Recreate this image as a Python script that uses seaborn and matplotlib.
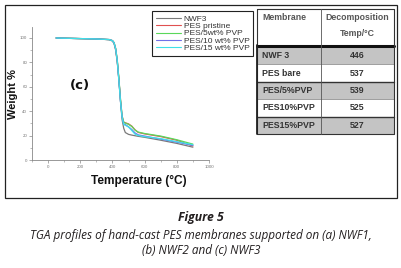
import numpy as np
import pandas as pd
import matplotlib
matplotlib.use("Agg")
import matplotlib.pyplot as plt
import seaborn as sns
from matplotlib.patches import Rectangle

# ---------------- data ----------------
temperature = [50, 100, 200, 300, 380, 400, 410, 420, 430, 440, 450, 460, 470, 480,
               500, 520, 540, 560, 600, 700, 800, 900]
nwf3 = [100, 99.8, 99.5, 99.2, 98.6, 97.5, 95.5, 90, 80, 66, 48, 33, 26, 22.5,
        21, 20.4, 19.9, 19.4, 18.6, 16.2, 13.6, 10.5]
pes_pristine = [100, 99.8, 99.5, 99.2, 98.7, 97.8, 96, 91, 81, 66, 49, 36, 31, 30.5,
                29.6, 27.8, 24.8, 22.6, 21.4, 19.2, 16.2, 11.5]
pes_5 = [100, 99.8, 99.5, 99.2, 98.7, 97.8, 96.2, 91.5, 82, 67, 50, 36, 31, 30.3,
         29.2, 27.5, 24.5, 22.9, 21.7, 19.6, 16.6, 13.0]
pes_10 = [100, 99.8, 99.5, 99.2, 98.7, 97.8, 96, 91, 81, 65, 48, 35, 29.5, 29,
          27.2, 25, 22.2, 20.6, 19.6, 17.1, 14.6, 12.0]
pes_15 = [100, 99.8, 99.5, 99.2, 98.7, 97.8, 96, 91, 81, 65, 48, 35, 29, 28.5,
          27, 24.2, 21.2, 20.1, 19.1, 17.5, 15.0, 12.5]
series_names = ["NWF3", "PES pristine", "PES/5wt% PVP", "PES/10 wt% PVP", "PES/15 wt% PVP"]
series_colors = ["#7a7a7a", "#e05050", "#5ad85a", "#7070e8", "#40e0e8"]

table_membranes = ["NWF 3", "PES bare", "PES/5%PVP", "PES10%PVP", "PES15%PVP"]
table_temps = ["446", "537", "539", "525", "527"]
table_header = ["Membrane", "Decomposition\nTemp/°C"]

x_ticks = [0, 200, 400, 600, 800, 1000]
y_ticks = [0, 20, 40, 60, 80, 100]

caption_title = "Figure 5"
caption_text = "TGA profiles of hand-cast PES membranes supported on (a) NWF1,\n(b) NWF2 and (c) NWF3"

# ---------------- figure ----------------
sns.set_theme(style="ticks")
plt.rcParams["font.family"] = ["Liberation Sans", "DejaVu Sans"]

W, H = 402, 268
fig = plt.figure(figsize=(W / 100, H / 100), dpi=100)

def fx(px):
    return px / W

def fy(py):
    return 1 - py / H

# outer frame
fig.add_artist(Rectangle((fx(5), fy(198)), fx(397) - fx(5), fy(5) - fy(198),
                         transform=fig.transFigure, fill=False, edgecolor="#222222",
                         linewidth=0.9))

ax = fig.add_axes([fx(32), fy(160), fx(209) - fx(32), fy(27) - fy(160)])
ax.set_facecolor("white")

df = pd.DataFrame({
    "Temperature": temperature * 5,
    "Weight": nwf3 + pes_pristine + pes_5 + pes_10 + pes_15,
    "Sample": sum([[n] * len(temperature) for n in series_names], []),
})
sns.lineplot(data=df, x="Temperature", y="Weight", hue="Sample",
             hue_order=series_names, palette=series_colors, linewidth=0.9,
             ax=ax, legend=True)

ax.set_xlim(-100, 1000)
ax.set_ylim(0, 109)
ax.set_xticks(x_ticks)
ax.set_yticks(y_ticks)
ax.set_xticks(np.arange(-100, 1001, 100), minor=True)
ax.set_yticks(np.arange(0, 109, 10), minor=True)
ax.tick_params(axis="both", which="major", labelsize=3.2, length=2, width=0.5,
               colors="#888888", labelcolor="#777777", pad=1.5)
ax.tick_params(axis="both", which="minor", length=1.2, width=0.4, colors="#888888")
for s in ["top", "right"]:
    ax.spines[s].set_visible(False)
for s in ["left", "bottom"]:
    ax.spines[s].set_color("#888888")
    ax.spines[s].set_linewidth(0.6)
ax.set_xlabel("")
ax.set_ylabel("")

fig.text(fx(139), fy(181), "Temperature (°C)", ha="center", va="center",
         fontsize=8.6, fontweight="bold", color="#111111")
fig.text(fx(13), fy(94), "Weight %", ha="center", va="center", rotation=90,
         fontsize=8.0, fontweight="bold", color="#111111")
fig.text(fx(80), fy(86), "(c)", ha="center", va="center", fontsize=9.5,
         fontweight="bold", color="#111111", family=["DejaVu Sans"])

handles, labels = ax.get_legend_handles_labels()
leg = ax.legend(handles, labels, loc="upper left",
                bbox_to_anchor=(fx(152), fy(11)), bbox_transform=fig.transFigure,
                fontsize=6.0, labelspacing=-0.05, handlelength=3.0,
                handletextpad=0.35, borderpad=0.45, borderaxespad=0,
                frameon=True, fancybox=False, framealpha=1)
leg.get_frame().set_edgecolor("#222222")
leg.get_frame().set_linewidth(0.8)
for t in leg.get_texts():
    t.set_color("#333333")
for ln in leg.get_lines():
    ln.set_linewidth(0.8)

# ---------------- table ----------------
tab = fig.add_axes([0, 0, 1, 1], zorder=5)
tab.set_xlim(0, W)
tab.set_ylim(H, 0)
tab.axis("off")
tab.patch.set_alpha(0)

tl, tr, tt, tb = 257, 394, 9, 134
col_div = 321
header_bottom = 45
row_h = (tb - 47) / len(table_membranes)
tab.add_patch(Rectangle((tl, tt), tr - tl, tb - tt, facecolor="white",
                        edgecolor="none", zorder=1))
for i, (m, t) in enumerate(zip(table_membranes, table_temps)):
    y0 = 47 + i * row_h
    if i % 2 == 0:
        tab.add_patch(Rectangle((tl, y0), tr - tl, row_h, facecolor="#c4c4c4",
                                edgecolor="none", zorder=1))
        if i > 0:
            tab.plot([tl, tr], [y0, y0], color="#333333", linewidth=1.0, zorder=3)
    else:
        tab.plot([tl, tr], [y0, y0], color="#777777", linewidth=0.5, zorder=3)
    tab.text(tl + 5, y0 + row_h / 2, m, ha="left", va="center", fontsize=6.3,
             fontweight="bold", color="#333333", zorder=4)
    tab.text((col_div + tr) / 2, y0 + row_h / 2, t, ha="center", va="center",
             fontsize=6.3, fontweight="bold", color="#333333", zorder=4)
# header
tab.text(tl + 5, 17, table_header[0], ha="left", va="center", fontsize=6.3,
         fontweight="bold", color="#555555", zorder=4)
h1, h2 = table_header[1].split("\n")
tab.text((col_div + tr) / 2, 17, h1, ha="center", va="center", fontsize=6.3,
         fontweight="bold", color="#555555", zorder=4)
tab.text((col_div + tr) / 2, 33, h2, ha="center", va="center", fontsize=6.3,
         fontweight="bold", color="#555555", zorder=4)
tab.plot([tl, tr], [header_bottom + 0.5, header_bottom + 0.5], color="#111111",
         linewidth=2.2, zorder=3)
# borders
tab.plot([tl, tr, tr, tl, tl], [tt, tt, tb, tb, tt], color="#333333",
         linewidth=0.8, zorder=3)
tab.plot([tl, tl], [header_bottom, tb], color="#222222", linewidth=1.3, zorder=3)
tab.plot([col_div, col_div], [tt, tb], color="#555555", linewidth=0.6, zorder=3)

# ---------------- caption ----------------
fig.text(0.5, fy(218), caption_title, ha="center", va="center", fontsize=8.8,
         fontweight="bold", style="italic", color="#231f20",
         family=["Open Sans", "DejaVu Sans"])
fig.text(0.5, fy(243), caption_text, ha="center", va="center", fontsize=8.5,
         style="italic", color="#231f20", linespacing=1.2,
         family=["Open Sans", "DejaVu Sans"])

fig.savefig("out.png", dpi=100)
